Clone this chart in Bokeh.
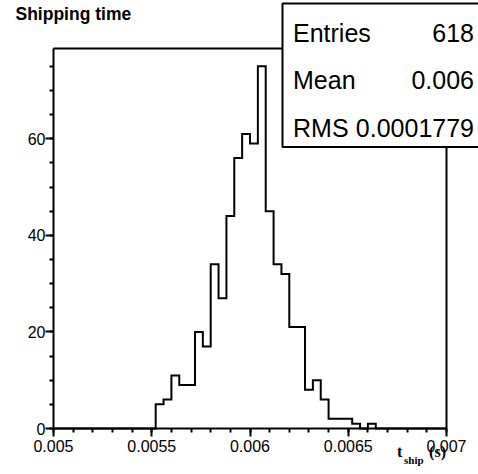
from bokeh.plotting import figure
from bokeh.models import Range1d, FixedTicker, LinearAxis, Label, BoxAnnotation
from bokeh.embed import file_html
from bokeh.resources import INLINE

# ---- data ----
x_start = 0.005
bin_width = 0.00004
counts = [0, 0, 0, 0, 0, 0, 0, 0, 0, 0,
          0, 0, 0, 5, 6, 11, 9, 9, 20, 17,
          34, 27, 44, 56, 61, 59, 75, 45, 34, 32,
          21, 21, 8, 10, 6, 2, 2, 2, 1, 0,
          1, 0, 0, 0, 0, 0, 0, 0, 0, 0]
x_ticks = [0.005, 0.0055, 0.006, 0.0065, 0.007]
x_tick_labels = ["0.005", "0.0055", "0.006", "0.0065", "0.007"]
y_ticks = [0, 20, 40, 60]
y_tick_labels = ["0", "20", "40", "60"]
title_text = "Shipping time"
stat_names = ["Entries", "Mean", "RMS"]
stat_values = ["618", "0.006", "0.0001779"]

# histogram frame (axis extents)
x_min, x_max = 0.005, 0.007
y_min, y_max = 0.0, 78.7

W, H = 478, 474
# pixel placement of the histogram frame on the canvas
fl, fr, ft, fb = 53, 446, 48, 428
xs = (x_max - x_min) / (fr - fl)
ys = (y_max - y_min) / (fb - ft)
x_range = Range1d(x_min - fl * xs, x_max + (W - fr) * xs)
y_range = Range1d(y_min - (H - fb) * ys, y_max + ft * ys)

edges = [x_start + i * bin_width for i in range(len(counts) + 1)]
step_y = counts + [0]

p = figure(width=W, height=H, output_backend="svg", toolbar_location=None,
           x_range=x_range, y_range=y_range, x_axis_location=None,
           y_axis_location=None,
           min_border_left=0, min_border_right=0, min_border_top=0,
           min_border_bottom=0, background_fill_color="white",
           border_fill_color="white")
p.outline_line_color = None
p.grid.visible = False

p.step(edges, step_y, mode="after", line_color="black", line_width=2,
       line_join="miter")

# axes drawn at fixed positions (frame edges of the histogram)
xa = LinearAxis(fixed_location=y_min, bounds=(x_min, x_max),
                ticker=FixedTicker(ticks=x_ticks,
                                   minor_ticks=[round(0.005 + 0.0001 * i, 6) for i in range(21)]),
                major_label_overrides={t: l for t, l in zip(x_ticks, x_tick_labels)})
ya = LinearAxis(fixed_location=x_min, bounds=(y_min, y_max),
                ticker=FixedTicker(ticks=y_ticks, minor_ticks=[5 * i for i in range(16)]),
                major_label_overrides={t: l for t, l in zip(y_ticks, y_tick_labels)})
for ax in (xa, ya):
    ax.axis_line_width = 2
    ax.axis_line_color = "black"
    ax.major_tick_line_width = 2
    ax.minor_tick_line_width = 2
    ax.major_tick_in = 0
    ax.major_tick_out = 8
    ax.minor_tick_in = 0
    ax.minor_tick_out = 4
    ax.major_label_text_font = "Liberation Sans"
    ax.major_label_text_font_size = "16px"
    ax.major_label_text_color = "black"
xa.major_label_standoff = 3
ya.major_label_standoff = 0
p.add_layout(xa, "below")
p.add_layout(ya, "left")

top_ax = LinearAxis(fixed_location=y_max, bounds=(x_min, x_max),
                    ticker=FixedTicker(ticks=[]), axis_line_width=2,
                    axis_line_color="black", major_tick_out=0, major_tick_in=0,
                    minor_tick_out=0, minor_tick_in=0,
                    major_label_text_font_size="0px")
right_ax = LinearAxis(fixed_location=x_max, bounds=(y_min, y_max),
                      ticker=FixedTicker(ticks=[]), axis_line_width=2,
                      axis_line_color="black", major_tick_out=0, major_tick_in=0,
                      minor_tick_out=0, minor_tick_in=0,
                      major_label_text_font_size="0px")
p.add_layout(top_ax, "above")
p.add_layout(right_ax, "right")

# stats box (screen coordinates, origin bottom-left of canvas)
box = BoxAnnotation(left=282, right=W + 5, bottom=H - 146.5, top=H - 3,
                    left_units="screen", right_units="screen",
                    bottom_units="screen", top_units="screen",
                    fill_color="white", fill_alpha=1.0,
                    line_color="black", line_width=2, line_alpha=1.0)
p.add_layout(box)

K = 0.35  # baseline correction (fraction of font size)


def text_label(x, base_y, text, size, font="Liberation Sans", style="normal",
               align="left"):
    return Label(x=x, y=H - base_y + K * size, x_units="screen",
                 y_units="screen", text=text, text_font=font,
                 text_font_style=style, text_font_size=f"{size}px",
                 text_color="black", text_baseline="alphabetic",
                 text_align=align)


stat_base = [41, 88.5, 136]
for name, val, by in zip(stat_names, stat_values, stat_base):
    p.add_layout(text_label(292.5, by, name, 25))
    p.add_layout(text_label(473.5, by, val, 25, align="right"))

# title
p.add_layout(text_label(15, 20, title_text, 17.5, style="bold"))

# x axis title t_ship (s)
p.add_layout(text_label(396.5, 456.5, "t", 16, font="Liberation Serif", style="bold"))
p.add_layout(text_label(403.5, 463, "ship", 11, font="Liberation Serif", style="bold"))
p.add_layout(text_label(445.5, 456.5, "(s)", 16, font="Liberation Serif", style="bold",
                        align="right"))

open("out.html", "w").write(file_html(p, INLINE))
